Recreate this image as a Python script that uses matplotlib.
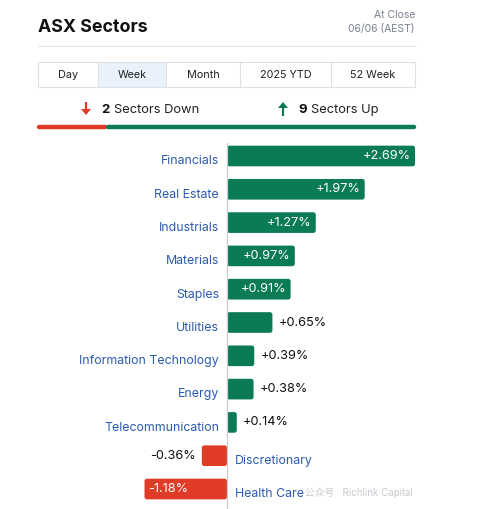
import matplotlib.pyplot as plt
from matplotlib.patches import Rectangle, FancyArrow, FancyBboxPatch

plt.rcParams['font.family'] = ['Inter', 'Noto Sans CJK SC', 'DejaVu Sans']

sectors = ['Financials', 'Real Estate', 'Industrials', 'Materials', 'Staples',
           'Utilities', 'Information Technology', 'Energy', 'Telecommunication',
           'Discretionary', 'Health Care']
changes = [2.69, 1.97, 1.27, 0.97, 0.91, 0.65, 0.39, 0.38, 0.14, -0.36, -1.18]
tabs = ['Day', 'Week', 'Month', '2025 YTD', '52 Week']
tab_edges = [38, 98, 166, 240, 331, 415]
n_down, n_up = 2, 9

green = '#0B7A57'
red = '#E03B26'
blue = '#2B5BB0'
gray = '#7A8290'

W, H = 504, 510
fig = plt.figure(figsize=(W / 100, H / 100), dpi=100)

# overlay axes in pixel coords for header elements
ov = fig.add_axes([0, 0, 1, 1])
ov.set_xlim(0, W)
ov.set_ylim(H, 0)
ov.axis('off')

ov.text(38, 28, 'ASX Sectors', fontsize=12.8, fontweight='bold', color='#111111', va='center')
ov.text(415, 15, 'At Close', fontsize=7.5, color=gray, ha='right', va='center')
ov.text(415, 29, '06/06 (AEST)', fontsize=7.5, color=gray, ha='right', va='center')
ov.plot([38, 415], [47, 47], color='#E2E4E8', lw=0.8)

# tabs
ov.add_patch(Rectangle((tab_edges[1], 63), tab_edges[2] - tab_edges[1], 25,
                       facecolor='#E9F1FA', edgecolor='none'))
ov.add_patch(Rectangle((38, 63), 377, 25, facecolor='none', edgecolor='#DDE0E5', lw=0.8))
for i, t in enumerate(tabs):
    if 0 < i:
        ov.plot([tab_edges[i]] * 2, [63, 88], color='#DDE0E5', lw=0.8)
    ov.text((tab_edges[i] + tab_edges[i + 1]) / 2, 75.5, t, fontsize=7.8, color='#222222',
            ha='center', va='center')

# up / down summary
ov.add_patch(FancyArrow(86, 103, 0, 13, width=2.2, head_width=10, head_length=6,
                        length_includes_head=True, color=red, lw=0))
ov.text(101, 110, str(n_down), fontsize=9.5, fontweight='bold', color='#111111', va='center')
ov.text(114, 110, 'Sectors Down', fontsize=9.3, color='#222222', va='center')
ov.add_patch(FancyArrow(283, 117, 0, -14, width=2.2, head_width=10, head_length=6,
                        length_includes_head=True, color=green, lw=0))
ov.text(298, 110, str(n_up), fontsize=9.5, fontweight='bold', color='#111111', va='center')
ov.text(311, 110, 'Sectors Up', fontsize=9.3, color='#222222', va='center')

split = 38 + (415 - 38) * n_down / (n_down + n_up)
ov.plot([39, split - 2], [128, 128], color=red, lw=3.2, solid_capstyle='round')
ov.plot([split + 1, 414], [128, 128], color=green, lw=3.2, solid_capstyle='round')

ov.text(413, 493, '公众号 · Richlink Capital', fontsize=7, color='#B8BCC2',
        ha='right', va='center', alpha=0.8)

# bar chart axes: x=0 at pixel 227, 69.9 px per %
scale = 69.9
row_px = 33.3
ax = fig.add_axes([0, 0, 1, (H - 140) / H])
ax.set_xlim(-227 / scale, (W - 227) / scale)
ax.set_ylim(10.6, -0.51)
ax.axis('off')
ax.patch.set_alpha(0)

ypos = list(range(len(sectors)))
colors = [green if v >= 0 else red for v in changes]
bars = ax.barh(ypos, changes, height=0.62, color=colors, edgecolor='none', zorder=2)
# swap plain rectangles for slightly rounded ones
for b, c in zip(bars, colors):
    x0, y0, w, h = b.get_x(), b.get_y(), b.get_width(), b.get_height()
    if w < 0:
        x0, w = x0 + w, -w
    b.set_visible(False)
    ax.add_patch(FancyBboxPatch((x0, y0), w, h,
                                boxstyle=f'round,pad=0,rounding_size={2.5 / scale}',
                                mutation_aspect=scale / row_px,
                                facecolor=c, edgecolor='none', zorder=2))
ax.plot([0, 0], [-0.4, 10.6], color='#C8CCD2', lw=0.9, zorder=3)

pad = 4 / scale
gap = 8 / scale
for y, name, v in zip(ypos, sectors, changes):
    label = f'{v:+.2f}%'
    if v >= 0:
        ax.text(-gap, y + 0.13, name, fontsize=8.9, color=blue, ha='right', va='center')
        if v >= 0.9:
            ax.text(v - pad, y - 0.03, label, fontsize=9.2, color='white', ha='right', va='center')
        else:
            ax.text(v + 6 / scale, y - 0.03, label, fontsize=9.2, color='#111111',
                    ha='left', va='center')
    else:
        ax.text(gap, y + 0.13, name, fontsize=8.9, color=blue, ha='left', va='center')
        if v <= -0.9:
            ax.text(v + pad, y - 0.03, label, fontsize=9.2, color='white', ha='left', va='center')
        else:
            ax.text(v - 6 / scale, y - 0.03, label, fontsize=9.2, color='#111111',
                    ha='right', va='center')

fig.savefig('out.png', dpi=100, facecolor='white')
